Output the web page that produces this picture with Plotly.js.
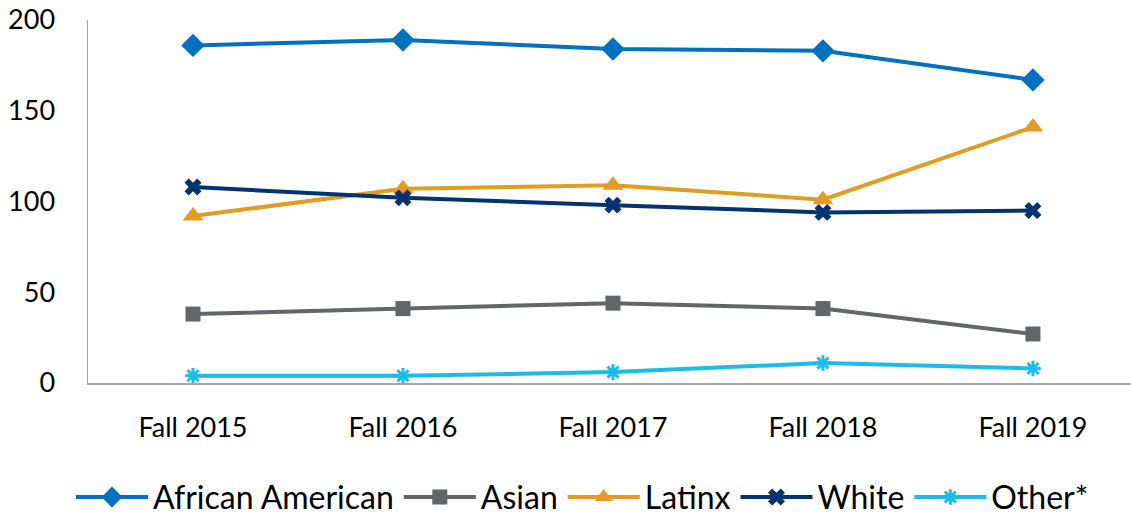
<!DOCTYPE html>
<html><head><meta charset="utf-8">
<script src="https://cdn.plot.ly/plotly-3.0.1.min.js"></script>
<style>html,body{margin:0;padding:0;background:#fff}#chart{width:1131px;height:519px}</style>
</head><body><div id="chart"></div>
<script>
const categories = ["Fall 2015","Fall 2016","Fall 2017","Fall 2018","Fall 2019"];
const africanAmerican = [186, 189, 184, 183, 167];
const asian = [38, 41, 44, 41, 27];
const latinx = [92, 107, 109, 101, 141];
const white = [108, 102, 98, 94, 95];
const other = [4, 4, 6, 11, 8];
const yTicks = [0, 50, 100, 150, 200];

const font = "Lato, 'Open Sans', sans-serif";
function tr(name, y, color, symbol, size) {
  return {type:'scatter', mode:'lines+markers', name:name, x:categories, y:y,
    line:{color:color, width:4}, marker:{color:color, symbol:symbol, size:size, line:{width:0}}};
}
const data = [
  tr('African American', africanAmerican, '#0070C0', 'diamond', 18),
  tr('Asian', asian, '#636569', 'square', 15),
  tr('Latinx', latinx, '#E29C22', 'triangle-up', 18),
  tr('White', white, '#00336F', 'x', 15),
  tr('Other*', other, '#1BBCEB', 'asterisk-open', 13)
];
data[4].marker.line = {color:'#1BBCEB', width:3};

const layout = {
  width:1131, height:519,
  margin:{l:88, r:0, t:20, b:136, pad:0},
  paper_bgcolor:'#fff', plot_bgcolor:'#fff',
  font:{family:font, color:'#000', size:27},
  showlegend:true,
  legend:{orientation:'h', xref:'container', yref:'container', x:0.515, xanchor:'center',
    y:0.042, yanchor:'middle', font:{size:32, family:font}, tracegroupgap:0, itemwidth:72},
  xaxis:{type:'category', range:[-0.5, 4.467], showgrid:false, zeroline:false,
    showline:true, linecolor:'#A6A6A6', linewidth:1.5, ticks:'', ticklabelstandoff:20,
    tickfont:{size:27, family:font}},
  yaxis:{range:[0,200], tickvals:yTicks, showgrid:false, zeroline:false,
    showline:true, linecolor:'#A6A6A6', linewidth:1.5, ticks:'', ticklabelstandoff:26,
    tickfont:{size:27, family:font}}
};
Plotly.newPlot('chart', data, layout, {displayModeBar:false, staticPlot:true});
</script></body></html>
